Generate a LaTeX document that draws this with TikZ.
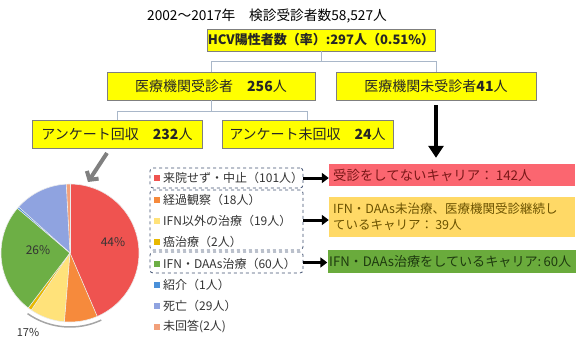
\documentclass[tikz,border=0pt]{standalone}
\usepackage{fontspec}
\setmainfont{Noto Sans CJK JP}
\usetikzlibrary{arrows.meta,calc}
\definecolor{boxyel}{HTML}{FFFF00}
\definecolor{boxline}{HTML}{7F7F7F}
\definecolor{treeline}{HTML}{A9B7C9}
\definecolor{dashblue}{HTML}{3F4F6F}
\definecolor{pred}{HTML}{EF5350}
\definecolor{porange}{HTML}{F68A3C}
\definecolor{pyellow}{HTML}{FFE27A}
\definecolor{pgold}{HTML}{E8B800}
\definecolor{pgreen}{HTML}{6DAF45}
\definecolor{pblue}{HTML}{4A90D9}
\definecolor{pperi}{HTML}{8FA3E0}
\definecolor{psalmon}{HTML}{F2A07A}
\definecolor{rbred}{HTML}{FB6670}
\definecolor{rbyel}{HTML}{FFD966}
\definecolor{rbgreen}{HTML}{6AAB3C}
\definecolor{txtred}{HTML}{7A1818}
\definecolor{txtyel}{HTML}{6B5200}
\definecolor{txtgreen}{HTML}{1E3A0F}
\newcommand\fsTitle{\fontsize{13.7pt}{16pt}\selectfont}
\newcommand\fsBox{\fontsize{14pt}{16pt}\selectfont}
\newcommand\fsLeg{\fontsize{12pt}{13pt}\selectfont}
\newcommand\fsRight{\fontsize{12.5pt}{16pt}\selectfont}
\begin{document}
\begin{tikzpicture}[x=1pt,y=-1pt,
  ybox/.style={draw=boxline, line width=0.8pt, fill=boxyel, inner sep=0pt, text=black!85},
  tree/.style={draw=treeline, line width=1pt},
  dbox/.style={draw=dashblue, dashed, line width=0.8pt, rounded corners=3pt, inner sep=0pt},
  rbox/.style={inner sep=0pt},
  blkarrow/.style={line width=3pt, -{Triangle[length=7pt,width=10pt]}},
  legsq/.style={minimum size=6pt, inner sep=0pt},
  legtxt/.style={anchor=west, inner sep=0pt, text=black!80, font=\fsLeg}
]
\useasboundingbox (0,0) rectangle (582,338);

% title
\node (title) at (267,16) {\fsTitle 2002～2017年　検診受診者数58,527人};

% top tree
\node[ybox, minimum width=228pt, minimum height=22pt] (hcv) at (321,40)
  {\fontsize{13pt}{15pt}\selectfont\bfseries HCV陽性者数（率）:297人（0.51\%）};
\node[ybox, minimum width=208pt, minimum height=28pt] (seen) at (211,86)
  {\fsBox 医療機関受診者　\textbf{256}人};
\node[ybox, minimum width=200pt, minimum height=28pt] (unseen) at (436,86)
  {\fsBox 医療機関未受診者\textbf{41}人};
\node[ybox, minimum width=170pt, minimum height=28pt] (ans) at (117,134)
  {\fsBox アンケート回収　\textbf{232}人};
\node[ybox, minimum width=171pt, minimum height=28pt] (noans) at (307.5,134)
  {\fsBox アンケート未回収　\textbf{24}人};

\coordinate (j1) at ($(hcv.south)+(0,10)$);
\draw[tree] (hcv.south) -- (j1);
\draw[tree] (seen.north) |- (j1) -| (unseen.north);
\coordinate (j2) at ($(seen.south)+(0,11)$);
\draw[tree] (seen.south) -- (j2);
\draw[tree] (ans.north) |- (j2) -| (noans.north);

% right boxes
\node[rbox, fill=rbred, minimum width=246pt, minimum height=22pt] (rred) at (452,175) {};
\node[rbox, fill=rbyel, minimum width=246pt, minimum height=40pt] (ryel) at (452,217) {};
\node[rbox, fill=rbgreen, minimum width=248pt, minimum height=23pt] (rgreen) at (451.5,261.5) {};
\node[anchor=west, inner sep=0pt, text=txtred, font=\fontsize{13.4pt}{16pt}\selectfont] (trred) at (333,175)
  {受診をしてないキャリア：\,142人};
\node[anchor=west, inner sep=0pt, text=txtyel, font=\fsRight, align=left] (tryel) at (333,217)
  {IFN・DAAs未治療、医療機関受診継続し\\ているキャリア：\,39人};
\node[anchor=west, inner sep=0pt, text=txtgreen, font=\fontsize{13.1pt}{16pt}\selectfont] (trgreen) at (329,261.5)
  {IFN・DAAs治療をしているキャリア:\,60人};

% big down arrow
\draw[line width=4pt, -{Triangle[length=12pt,width=15pt]}, shorten <=5pt, shorten >=6pt]
  (unseen.south) -- (unseen.south |- rred.north);

% legend
\foreach \yy/\cc/\tt [count=\i] in {
  178/pred/来院せず・中止（101人）,
  200/porange/経過観察（18人）,
  221/pyellow/IFN以外の治療（19人）,
  242/pgold/癌治療（2人）,
  264/pgreen/IFN・DAAs治療（60人）,
  285/pblue/紹介（1人）,
  306/pperi/死亡（29人）,
  327/psalmon/未回答(2人)}{
  \node[legsq, fill=\cc] (sq\i) at (157,\yy) {};
  \node[legtxt] (lt\i) at (163,\yy) {\tt};
}

% dashed groups
\node[dbox, minimum width=153pt, minimum height=20pt] (g1) at (226.5,178) {};
\node[dbox, minimum width=153pt, minimum height=60pt] (g2) at (226.5,220) {};
\node[dbox, minimum width=153pt, minimum height=21pt] (g3) at (226.5,262.5) {};

\draw[blkarrow] (g1.east) -- (rred.west |- g1.east);
\draw[blkarrow] (g2.east) -- (ryel.west |- g2.east);
\draw[blkarrow] (g3.east) -- (rgreen.west |- g3.east);

% pie
\begin{scope}[shift={(70,253)}, y=1pt]
  \def\R{69}
  \fill[pred]    (0,0) -- (90:\R) arc[start angle=90, end angle=-66.72, radius=\R] -- cycle;
  \fill[porange] (0,0) -- (-66.72:\R) arc[start angle=-66.72, end angle=-94.66, radius=\R] -- cycle;
  \fill[pyellow] (0,0) -- (-94.66:\R) arc[start angle=-94.66, end angle=-124.14, radius=\R] -- cycle;
  \fill[pgold]   (0,0) -- (-124.14:\R) arc[start angle=-124.14, end angle=-127.24, radius=\R] -- cycle;
  \fill[pgreen]  (0,0) -- (-127.24:\R) arc[start angle=-127.24, end angle=-220.34, radius=\R] -- cycle;
  \fill[pblue]   (0,0) -- (-220.34:\R) arc[start angle=-220.34, end angle=-221.90, radius=\R] -- cycle;
  \fill[pperi]   (0,0) -- (-221.90:\R) arc[start angle=-221.90, end angle=-266.90, radius=\R] -- cycle;
  \fill[psalmon] (0,0) -- (-266.90:\R) arc[start angle=-266.90, end angle=-270, radius=\R] -- cycle;
  \foreach \a in {90,-66.72,-94.66,-124.14,-127.24,-220.34,-221.90,-266.90}
    \draw[white!85!gray, line width=0.6pt] (0,0) -- (\a:\R);
  \draw[white!85!gray, line width=0.6pt] (0,0) circle[radius=\R];
  \node[font=\fontsize{12pt}{14pt}\selectfont, text=black!80] (p44) at (43,11) {44\%};
  \node[font=\fontsize{12pt}{14pt}\selectfont, text=black!80] (p26) at (-32,3) {26\%};
  \node[font=\fontsize{11pt}{13pt}\selectfont, text=black!80] (p17) at (-42,-79) {17\%};
  \draw[gray!70, line width=1.5pt] (-125:74) arc[start angle=-125, end angle=-65, radius=74];
\end{scope}

% gray pointer arrow
\coordinate (ga1) at (107,153);
\coordinate (ga2) at (88,182);
\draw[gray, line width=4pt, -{Straight Barb[length=6pt,width=14pt]}] (ga1) -- (ga2);
\end{tikzpicture}
\end{document}
